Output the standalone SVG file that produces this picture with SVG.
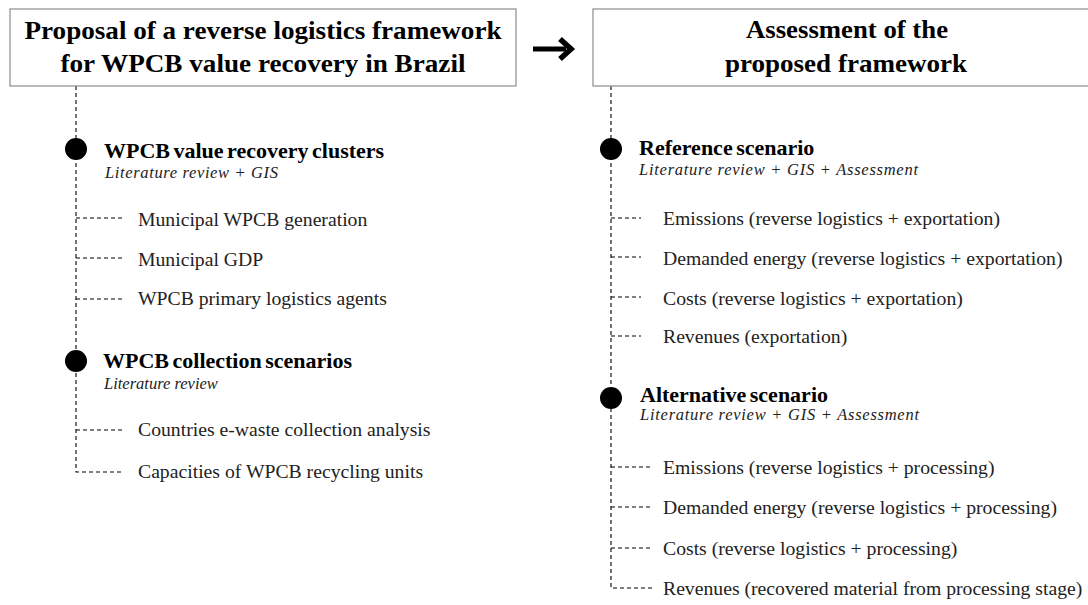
<svg xmlns="http://www.w3.org/2000/svg" width="1088" height="605" viewBox="0 0 1088 605">
<style>
.box{fill:#fff;stroke:#8c8c8c;stroke-width:1.2}
.title{font-family:"Liberation Serif","Times New Roman",serif;font-weight:bold;font-size:26px;fill:#000;text-anchor:middle}
.head{font-family:"Liberation Serif","Times New Roman",serif;font-weight:bold;font-size:22px;fill:#000;word-spacing:-2px}
.sub{font-family:"Liberation Serif","Times New Roman",serif;font-style:italic;font-size:16.5px;fill:#222}
.item{font-family:"Liberation Serif","Times New Roman",serif;font-size:19.7px;fill:#222}
.dash{fill:none;stroke:#000;stroke-width:1.1;stroke-dasharray:4 3}
.dot{fill:#000}
</style>
<rect width="1088" height="605" fill="#fff"/>
<g id="connectors">
<path class="dash" d="M76,86 V472 H123"/>
<path class="dash" d="M76,218 H123 M76,258 H123 M76,299 H123 M76,430 H123"/>
<path class="dash" d="M611,86 V588 H653"/>
<path class="dash" d="M611,218 H641 M611,257 H641 M611,297 H641 M611,336 H641"/>
<path class="dash" d="M611,467 H653 M611,507 H653 M611,548 H653"/>
<g id="arrow">
<line x1="533" y1="49" x2="566" y2="49" stroke="#000" stroke-width="5"/>
<polyline points="560,39 571,49 560,59" fill="none" stroke="#000" stroke-width="5.5"/>
</g>
</g>
<g id="box-proposal">
<rect class="box" x="10" y="9" width="506" height="77"/>
<text class="title" x="263" y="39" textLength="477" lengthAdjust="spacingAndGlyphs">Proposal of a reverse logistics framework</text>
<text class="title" x="263" y="72" textLength="405" lengthAdjust="spacingAndGlyphs">for WPCB value recovery in Brazil</text>
</g>
<g id="box-assessment">
<rect class="box" x="593" y="9" width="508" height="77"/>
<text class="title" x="847" y="38" textLength="202" lengthAdjust="spacingAndGlyphs">Assessment of the</text>
<text class="title" x="846" y="72" textLength="242" lengthAdjust="spacingAndGlyphs">proposed framework</text>
</g>
<g id="clusters">
<circle class="dot" cx="76" cy="149" r="11"/>
<text class="head" x="104" y="158">WPCB value recovery clusters</text>
<text class="sub" x="105" y="178" textLength="173" lengthAdjust="spacing">Literature review + GIS</text>
<text class="item" x="138" y="226">Municipal WPCB generation</text>
<text class="item" x="138" y="266">Municipal GDP</text>
<text class="item" x="138" y="305">WPCB primary logistics agents</text>
</g>
<g id="collection">
<circle class="dot" cx="76" cy="361" r="11"/>
<text class="head" x="103" y="368">WPCB collection scenarios</text>
<text class="sub" x="104" y="389">Literature review</text>
<text class="item" x="138" y="436">Countries e-waste collection analysis</text>
<text class="item" x="138" y="478">Capacities of WPCB recycling units</text>
</g>
<g id="reference">
<circle class="dot" cx="611" cy="149" r="11"/>
<text class="head" x="639" y="155">Reference scenario</text>
<text class="sub" x="639" y="175" textLength="279" lengthAdjust="spacing">Literature review + GIS + Assessment</text>
<text class="item" x="663" y="225">Emissions (reverse logistics + exportation)</text>
<text class="item" x="663" y="265">Demanded energy (reverse logistics + exportation)</text>
<text class="item" x="663" y="305">Costs (reverse logistics + exportation)</text>
<text class="item" x="663" y="343">Revenues (exportation)</text>
</g>
<g id="alternative">
<circle class="dot" cx="611" cy="398" r="11"/>
<text class="head" x="640" y="402">Alternative scenario</text>
<text class="sub" x="640" y="420" textLength="279" lengthAdjust="spacing">Literature review + GIS + Assessment</text>
<text class="item" x="663" y="474">Emissions (reverse logistics + processing)</text>
<text class="item" x="663" y="514">Demanded energy (reverse logistics + processing)</text>
<text class="item" x="663" y="555">Costs (reverse logistics + processing)</text>
<text class="item" x="663" y="595">Revenues (recovered material from processing stage)</text>
</g>
</svg>
